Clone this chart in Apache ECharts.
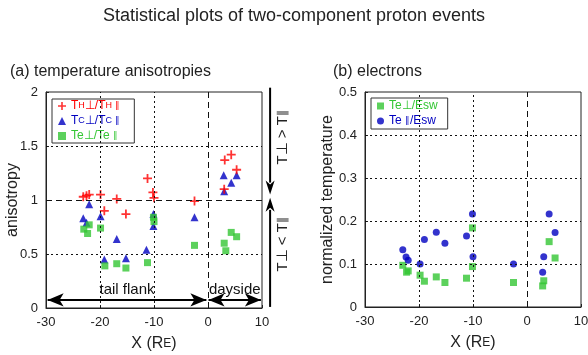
<!DOCTYPE html>
<html><head><meta charset="utf-8">
<script src="https://cdn.jsdelivr.net/npm/echarts@6/dist/echarts.min.js"></script>
<style>html,body{margin:0;padding:0;background:#fff}#c{width:588px;height:355px}</style>
</head><body><div id="c"></div>
<script>
// ---------- data ----------
// (a) temperature anisotropies
const hotX = [-23.1,-22.5,-22.0,-19.9,-16.9,-19.2,-15.2,-11.2,-10.2,-10.0,-2.5,3.1,4.3,5.3,3.0];
const hotY = [1.03,1.04,1.05,1.05,1.01,0.90,0.87,1.20,1.07,1.02,0.99,1.37,1.42,1.28,1.10];
const coldX = [-22.0,-23.1,-22.5,-19.9,-16.9,-19.2,-15.2,-11.4,-10.1,-10.1,-2.5,2.9,4.3,5.3,3.0];
const coldY = [0.96,0.83,0.79,0.85,0.64,0.45,0.46,0.54,0.87,0.76,0.84,1.23,1.16,1.23,1.08];
const eAnX = [-23.0,-22.3,-22.0,-19.9,-19.1,-16.9,-15.2,-11.2,-10.1,-10.0,-2.5,3.0,3.3,4.3,5.3];
const eAnY = [0.73,0.69,0.77,0.74,0.39,0.41,0.37,0.42,0.84,0.80,0.58,0.60,0.53,0.70,0.66];
// (b) electrons
const ePerpX = [-23.0,-22.3,-22.0,-19.8,-19.0,-16.8,-15.2,-11.2,-10.1,-10.1,-2.5,2.9,3.1,4.1,5.2];
const ePerpY = [0.097,0.081,0.084,0.074,0.060,0.070,0.057,0.067,0.184,0.094,0.057,0.049,0.061,0.152,0.114];
const eParX = [-23.0,-22.4,-22.0,-19.8,-19.0,-16.8,-15.2,-11.2,-10.1,-10.0,-2.5,2.9,3.1,4.1,5.2];
const eParY = [0.133,0.116,0.109,0.100,0.157,0.174,0.148,0.165,0.216,0.117,0.100,0.081,0.117,0.216,0.173];
// axes / reference lines
const xTicks = [-30,-20,-10,0,10];
const leftDottedV = [-20,-10], leftDashedV = [0];
const leftDottedH = [0.5,1.5], leftDashedH = [1];
const rightDottedV = [-20,-10], rightDashedV = [0];
const rightDottedH = [0.1,0.2,0.3,0.4];
const regionLabels = ['tail flank','dayside'];
const tailRange = [-29.7,-0.3], dayRange = [0.1,9.8], arrowY = 0.075;

const RED='#ff0000', BLUE='#0000c0', GREEN='#33c633';
const FONT='Liberation Sans, Arial, Helvetica, sans-serif';
const zip=(a,b)=>a.map((v,i)=>[v,b[i]]);
const plusPath='path://M0,4H10V6H0Z M4,0H6V10H4Z';

const dotted={type:[2,3],color:'#111',width:1};
const dashed={type:[6,4],color:'#111',width:1};
function gridLines(dv,dsv,dh,dsh){
  const d=[];
  dv.forEach(v=>d.push({xAxis:v,lineStyle:dotted}));
  dsv.forEach(v=>d.push({xAxis:v,lineStyle:dashed}));
  dh.forEach(v=>d.push({yAxis:v,lineStyle:dotted}));
  (dsh||[]).forEach(v=>d.push({yAxis:v,lineStyle:dashed}));
  return d;
}

const chart=echarts.init(document.getElementById('c'),null,{renderer:'canvas'});
const axisCommon={
  nameMoveOverlap:false,
  axisLine:{show:true,onZero:false,lineStyle:{color:'#222',width:1}},
  axisTick:{show:true,inside:true,length:3,lineStyle:{color:'#222'}},
  splitLine:{show:false},
  axisLabel:{color:'#222',fontSize:13,fontFamily:FONT},
  nameTextStyle:{color:'#222',fontSize:16,fontFamily:FONT,rich:{s:{fontSize:12,color:'#222',fontFamily:FONT}}}
};
const legendNames={
  TH:'T{s|H}⊥/T{s|H} {s|∥}', TC:'T{s|C}⊥/T{s|C} {s|∥}', TE:'Te⊥/Te {s|∥}',
  EP:'Te⊥/Esw', EA:'Te {s|∥}/Esw'
};
const option={
  animation:false,
  backgroundColor:'#fff',
  textStyle:{fontFamily:FONT},
  title:[
    {text:'Statistical plots of two-component proton events',left:'center',top:2,textStyle:{fontSize:18,fontWeight:'normal',color:'#222',fontFamily:FONT}},
    {text:'(a) temperature anisotropies',left:5,top:59,textStyle:{fontSize:16,fontWeight:'normal',color:'#222',fontFamily:FONT}},
    {text:'(b) electrons',left:328,top:59,textStyle:{fontSize:16,fontWeight:'normal',color:'#222',fontFamily:FONT}}
  ],
  grid:[
    {left:46,top:92,width:216,height:216,show:true,borderColor:'#222',borderWidth:1,backgroundColor:'transparent',outerBoundsMode:'none',containLabel:false},
    {left:365,top:92,width:216,height:215,show:true,borderColor:'#222',borderWidth:1,backgroundColor:'transparent',outerBoundsMode:'none',containLabel:false}
  ],
  xAxis:[
    Object.assign({},axisCommon,{gridIndex:0,type:'value',min:-30,max:10,interval:10,name:'X (R{s|E})',nameLocation:'middle',nameGap:28}),
    Object.assign({},axisCommon,{gridIndex:1,type:'value',min:-30,max:10,interval:10,name:'X (R{s|E})',nameLocation:'middle',nameGap:28})
  ],
  yAxis:[
    Object.assign({},axisCommon,{gridIndex:0,type:'value',min:0,max:2,interval:0.5,name:'anisotropy',nameLocation:'middle',nameGap:25}),
    Object.assign({},axisCommon,{gridIndex:1,type:'value',min:0,max:0.5,interval:0.1,name:'normalized temperature',nameLocation:'middle',nameGap:29})
  ],
  legend:[
    {orient:'vertical',left:52,top:99,padding:[1,14,1,6],itemGap:3,itemWidth:8,itemHeight:8,
     borderColor:'#333',borderWidth:1,selectedMode:false,
     data:[{name:'TH',textStyle:{color:RED}},{name:'TC',textStyle:{color:BLUE}},{name:'TE',textStyle:{color:GREEN}}],
     formatter:n=>legendNames[n],
     textStyle:{fontSize:12,fontFamily:FONT,padding:[0,0,0,0],rich:{s:{fontSize:9}}}},
    {orient:'vertical',left:371,top:98,padding:[2,10,2,6],itemGap:3,itemWidth:7,itemHeight:7,
     borderColor:'#333',borderWidth:1,selectedMode:false,
     data:[{name:'EP',textStyle:{color:GREEN}},{name:'EA',textStyle:{color:BLUE}}],
     formatter:n=>legendNames[n],
     textStyle:{fontSize:12,fontFamily:FONT,rich:{s:{fontSize:9}}}}
  ],
  series:[
    {type:'scatter',name:'helper0',xAxisIndex:0,yAxisIndex:0,data:[],z:1,silent:true,
     markLine:{silent:true,symbol:'none',animation:false,label:{show:false},
       data:gridLines(leftDottedV,leftDashedV,leftDottedH,leftDashedH).concat([
         [{coord:[tailRange[0],arrowY],symbol:'arrow'},{coord:[tailRange[1],arrowY],symbol:'arrow',
           label:{show:true,formatter:regionLabels[0],position:'insideMiddleTop',distance:3,fontSize:15,color:'#111',fontFamily:FONT}}],
         [{coord:[dayRange[0],arrowY],symbol:'arrow'},{coord:[dayRange[1],arrowY],symbol:'arrow',
           label:{show:true,formatter:regionLabels[1],position:'insideMiddleTop',distance:3,fontSize:15,color:'#111',fontFamily:FONT}}]
       ]).map(d=>{ if(Array.isArray(d)){ d[0].lineStyle={color:'#000',width:2,type:'solid'}; } return d; }),
       symbolSize:[10,16]}},
    {type:'scatter',name:'helper1',xAxisIndex:1,yAxisIndex:1,data:[],z:1,silent:true,
     markLine:{silent:true,symbol:'none',animation:false,label:{show:false},
       data:gridLines(rightDottedV,rightDashedV,rightDottedH,[])}},
    {type:'scatter',name:'TC',xAxisIndex:0,yAxisIndex:0,data:zip(coldX,coldY),symbol:'triangle',symbolSize:8,itemStyle:{color:BLUE},z:3},
    {type:'scatter',name:'TE',xAxisIndex:0,yAxisIndex:0,data:zip(eAnX,eAnY),symbol:'rect',symbolSize:7,itemStyle:{color:GREEN},z:3},
    {type:'scatter',name:'TH',xAxisIndex:0,yAxisIndex:0,data:zip(hotX,hotY),symbol:plusPath,symbolSize:9,itemStyle:{color:RED},z:4},
    {type:'scatter',name:'EP',xAxisIndex:1,yAxisIndex:1,data:zip(ePerpX,ePerpY),symbol:'rect',symbolSize:7,itemStyle:{color:GREEN},z:3},
    {type:'scatter',name:'EA',xAxisIndex:1,yAxisIndex:1,data:zip(eParX,eParY),symbol:'circle',symbolSize:7,itemStyle:{color:BLUE},z:4}
  ]
};
chart.setOption(option);

// side arrows for T⊥ > T∥ / T⊥ < T∥ (positioned via the left grid's scales)
const sideX=11.5;
const P=(x,y)=>chart.convertToPixel({gridIndex:0},[x,y]);
const pTop=P(sideX,2.04), dTip=P(sideX,1.05), uTip=P(sideX,1.02), pBot=P(sideX,0.01);
const ax=pTop[0], aw=4.5, al=14;
const txtX=P(13.9,0)[0];
chart.setOption({graphic:[
  {type:'line',shape:{x1:ax,y1:pTop[1],x2:ax,y2:dTip[1]-al+2},style:{stroke:'#000',lineWidth:2},z:10},
  {type:'polygon',shape:{points:[[ax-aw,dTip[1]-al],[ax,dTip[1]-al+4],[ax+aw,dTip[1]-al],[ax,dTip[1]]]},style:{fill:'#000'},z:10},
  {type:'line',shape:{x1:ax,y1:pBot[1],x2:ax,y2:uTip[1]+al-2},style:{stroke:'#000',lineWidth:2},z:10},
  {type:'polygon',shape:{points:[[ax-aw,uTip[1]+al],[ax,uTip[1]+al-4],[ax+aw,uTip[1]+al],[ax,uTip[1]]]},style:{fill:'#000'},z:10},
  {type:'text',x:txtX,y:P(0,1.58)[1],rotation:Math.PI/2,
   style:{text:'T⊥ > T{s|∥}',rich:{s:{fontSize:12,fill:'#222'}},fontSize:15,fill:'#222',align:'center',verticalAlign:'middle',fontFamily:FONT},z:10},
  {type:'text',x:txtX,y:P(0,0.59)[1],rotation:Math.PI/2,
   style:{text:'T⊥ < T{s|∥}',rich:{s:{fontSize:12,fill:'#222'}},fontSize:15,fill:'#222',align:'center',verticalAlign:'middle',fontFamily:FONT},z:10}
]});
</script></body></html>
